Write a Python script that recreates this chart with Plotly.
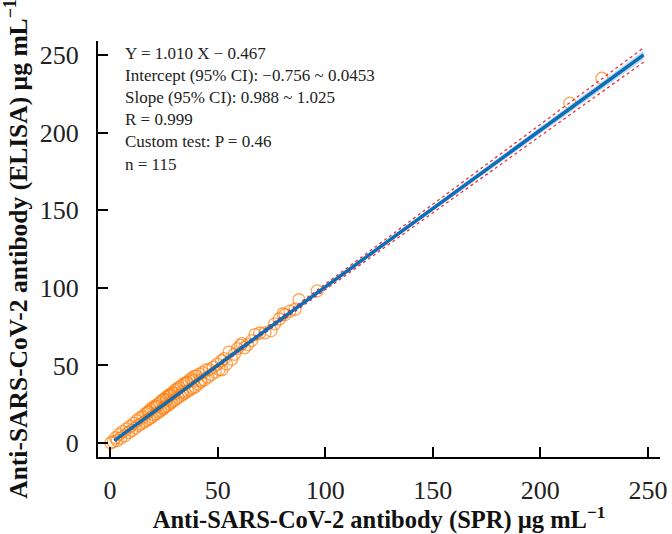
import plotly.graph_objects as go

# ---- data ----
spr_x = [0.4, 1.5, 2.6, 3.3, 4.2, 5.0, 5.9, 6.8, 7.6, 8.5,
         9.3, 10.2, 11.0, 11.8, 12.5, 13.3, 14.0, 14.6, 15.3, 15.9,
         16.5, 17.1, 17.7, 18.3, 18.8, 19.4, 19.9, 20.5, 21.0, 21.5,
         22.0, 22.6, 23.1, 23.6, 24.1, 24.6, 25.1, 25.6, 26.1, 26.6,
         27.1, 27.6, 28.1, 28.6, 29.1, 29.6, 30.1, 30.6, 31.1, 31.6,
         32.1, 32.7, 33.2, 33.8, 34.3, 34.9, 35.5, 36.0, 36.6, 37.2,
         37.8, 38.4, 39.0, 39.6, 40.2, 40.9, 41.6, 42.3, 43.0, 43.8,
         44.6, 45.4, 46.2, 47.1, 48.0, 48.9, 49.8, 50.8, 51.8, 52.0,
         53.0, 54.1, 55.3, 56.5, 57.8, 59.2, 60.6, 61.3, 62.5, 64.0,
         65.8, 67.4, 69.5, 72.0, 74.8, 76.5, 78.6, 80.4, 81.3, 83.6,
         86.0, 87.8, 96.2, 213.7, 228.6,
         18.0, 21.8, 24.9, 27.9, 29.9, 33.5, 35.8, 38.8, 42.0, 26.3]
elisa_y = [0.2, 0.9, 3.4, 1.6, 5.6, 3.3, 7.4, 4.6, 9.1, 6.8,
           10.8, 8.1, 12.6, 9.8, 14.5, 11.4, 16.3, 12.4, 17.1, 13.6,
           18.9, 14.5, 19.8, 15.7, 21.6, 16.6, 22.9, 18.0, 24.0, 18.9,
           24.9, 20.1, 25.9, 21.0, 27.4, 22.1, 28.2, 23.3, 29.6, 24.0,
           30.5, 25.1, 31.4, 26.3, 32.6, 27.2, 33.7, 28.1, 34.8, 29.3,
           35.9, 30.2, 37.0, 31.4, 38.2, 32.2, 38.8, 33.5, 40.2, 34.4,
           41.4, 35.4, 42.9, 36.2, 43.3, 38.0, 44.4, 39.5, 45.3, 40.7,
           47.1, 42.5, 47.4, 44.1, 48.9, 45.8, 50.8, 47.3, 53.0, 47.2,
           54.4, 50.9, 58.6, 54.0, 57.2, 60.8, 62.9, 64.1, 61.4, 63.4,
           66.0, 69.9, 70.9, 71.0, 72.4, 76.8, 79.9, 83.3, 82.7, 85.0,
           86.2, 92.3, 98.0, 219.0, 235.0,
           20.4, 23.5, 22.4, 30.6, 31.9, 33.1, 39.1, 40.2, 40.5, 27.8]

slope = 1.010
intercept = -0.467
slope_ci = [0.988, 1.025]
fit_x_range = [2, 248]
band_rel = 0.011  # relative half-width of the shaded band

x_ticks = [0, 50, 100, 150, 200, 250]
y_ticks = [0, 50, 100, 150, 200, 250]

stats_lines = [
    "Y = 1.010 X − 0.467",
    "Intercept (95% CI): −0.756 ~ 0.0453",
    "Slope (95% CI): 0.988 ~ 1.025",
    "R = 0.999",
    "Custom test: P = 0.46",
    "n = 115",
]

# ---- derived fit curves ----
n_fit = 60
fx = [fit_x_range[0] + (fit_x_range[1] - fit_x_range[0]) * i / (n_fit - 1) for i in range(n_fit)]
fy = [slope * v + intercept for v in fx]
half_ci = (slope_ci[1] - slope_ci[0]) / 2
dash_up = [y + half_ci * x for x, y in zip(fx, fy)]
dash_lo = [y - half_ci * x for x, y in zip(fx, fy)]
band_up = [y + band_rel * x for x, y in zip(fx, fy)]
band_lo = [y - band_rel * x for x, y in zip(fx, fy)]

fig = go.Figure()
fig.add_trace(go.Scatter(x=fx + fx[::-1], y=band_up + band_lo[::-1], fill="toself",
                         fillcolor="rgba(165,210,240,0.8)", line=dict(width=0),
                         hoverinfo="skip", showlegend=False))
fig.add_trace(go.Scatter(x=spr_x, y=elisa_y, mode="markers",
                         marker=dict(symbol="circle-open", size=12,
                                     color="rgba(255,127,14,0.7)", line=dict(width=1.3)),
                         showlegend=False))
for yy in (dash_up, dash_lo):
    fig.add_trace(go.Scatter(x=fx, y=yy, mode="lines",
                             line=dict(color="#e8303a", width=1.3, dash="dot"),
                             showlegend=False))
fig.add_trace(go.Scatter(x=fx, y=fy, mode="lines",
                         line=dict(color="#0f6db5", width=3.5), showlegend=False))

fig.add_annotation(text="<br>".join(stats_lines), xref="paper", yref="paper",
                   x=0.045, y=0.997, xanchor="left", yanchor="top", align="left",
                   showarrow=False,
                   font=dict(family="Liberation Serif", size=17, color="#222"))

axis_common = dict(showline=True, linecolor="black", linewidth=2, mirror=False,
                   ticks="inside", ticklen=10, tickwidth=1.5, tickcolor="black",
                   showgrid=False, zeroline=False, automargin=False,
                   tickfont=dict(family="Liberation Serif", size=26, color="#222"))

fig.update_layout(
    width=672, height=534,
    margin=dict(l=98, r=12, t=41, b=77),
    plot_bgcolor="white", paper_bgcolor="white",
    xaxis=dict(range=[-5.6, 255.6], tickvals=x_ticks, ticklabelstandoff=9,
               title=dict(text="<b>Anti-SARS-CoV-2 antibody (SPR) µg mL<sup>−1</sup></b>",
                          font=dict(family="Liberation Serif", size=24.5, color="#111"),
                          standoff=4),
               **axis_common),
    yaxis=dict(range=[-9, 259], tickvals=y_ticks, ticklabelstandoff=12,
               title=dict(text="<b>Anti-SARS-CoV-2 antibody (ELISA) µg mL<sup>−1</sup></b>",
                          font=dict(family="Liberation Serif", size=25.5, color="#111"),
                          standoff=8),
               **axis_common),
)

fig.write_html("out.html", config={"displayModeBar": False},
               post_script="document.body.style.margin='0';document.body.style.overflow='hidden';")
